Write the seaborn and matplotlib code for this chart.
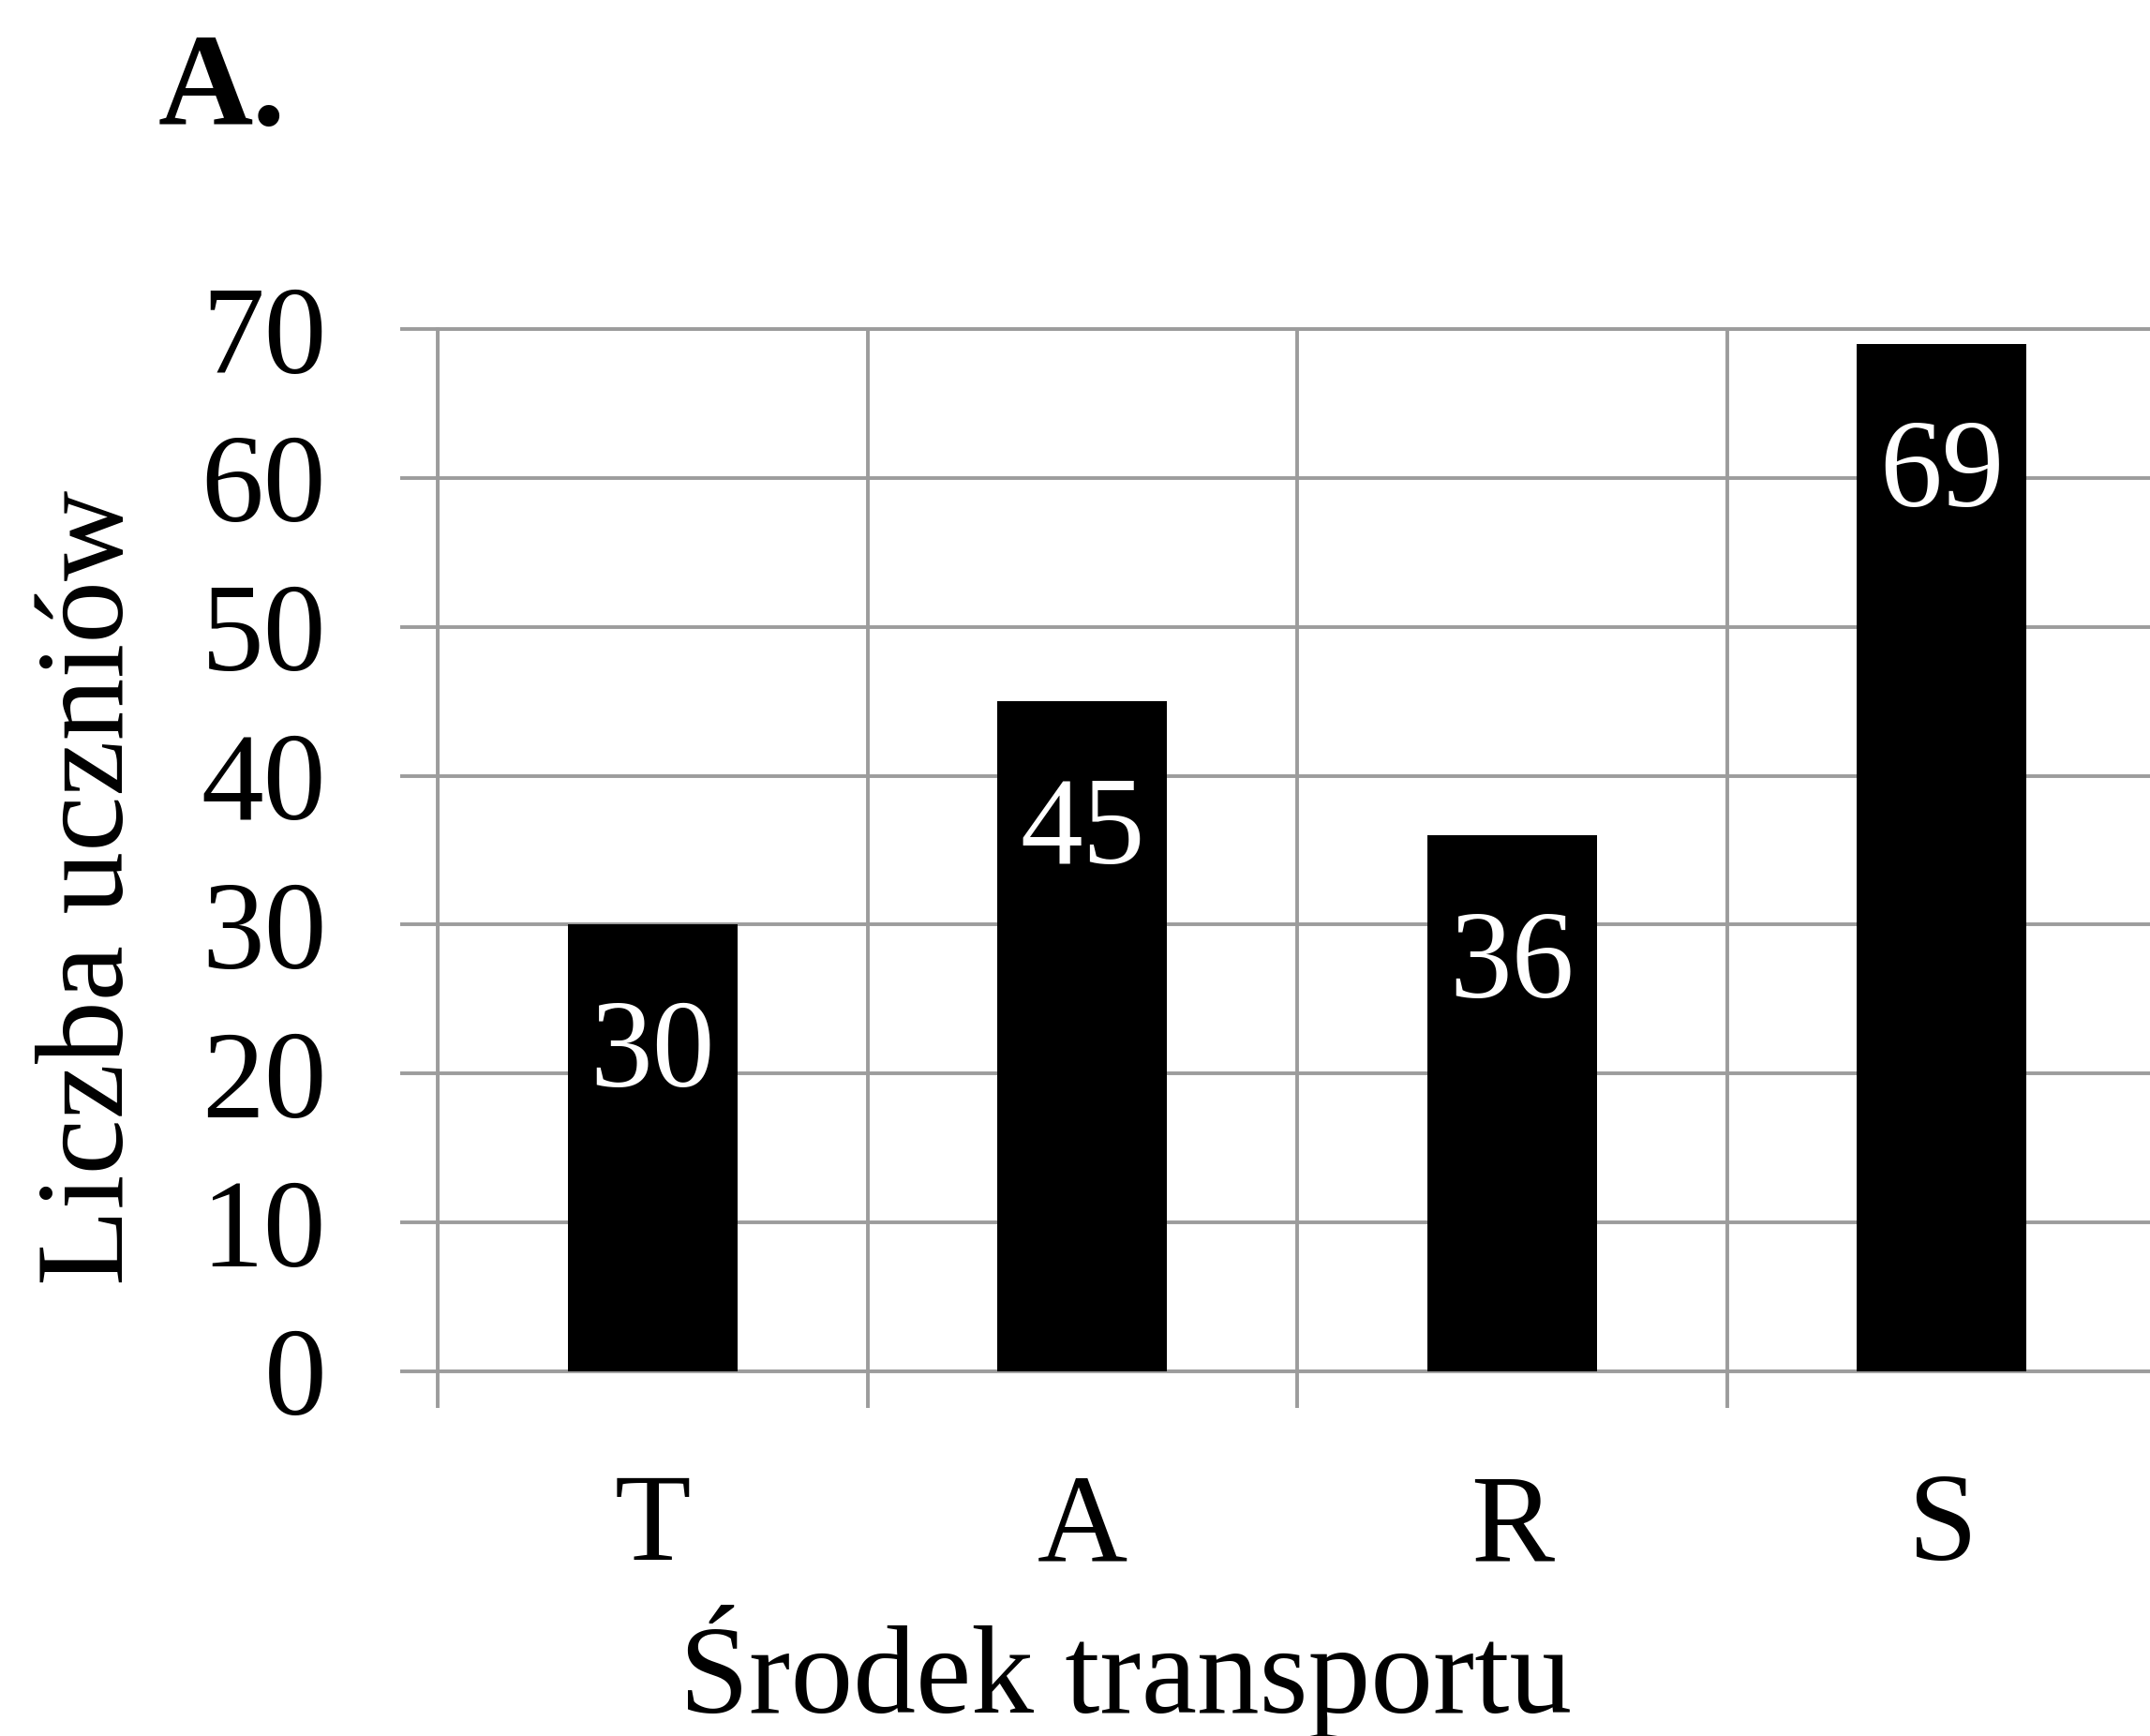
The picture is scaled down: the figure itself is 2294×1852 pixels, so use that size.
import matplotlib
matplotlib.use("Agg")
import matplotlib.pyplot as plt
import seaborn as sns
import pandas as pd
from matplotlib.ticker import FixedLocator

# Data: number of pupils by means of transport
categories = ["T", "A", "R", "S"]
values = [30, 45, 36, 69]
y_ticks = [0, 10, 20, 30, 40, 50, 60, 70]

df = pd.DataFrame({"transport": categories, "count": values})

sns.set_theme(style="white")
plt.rcParams["font.family"] = ["Liberation Serif", "DejaVu Serif"]
plt.rcParams["text.color"] = "black"
plt.rcParams["axes.labelcolor"] = "black"
plt.rcParams["xtick.labelcolor"] = "black"
plt.rcParams["ytick.labelcolor"] = "black"

W, H, DPI = 2294, 1852, 100
fig = plt.figure(figsize=(W / DPI, H / DPI), dpi=DPI)
fig.patch.set_facecolor("white")

# axes frame in pixels: left 467, top 351, bottom 1463, runs past the right edge
left_px, top_px, bot_px = 467, 351, 1463
cat_w = 458.5
ax = fig.add_axes([left_px / W, (H - bot_px) / H, (W - left_px) / W, (bot_px - top_px) / H])

sns.barplot(data=df, x="transport", y="count", color="black", saturation=1,
            width=0.395, edgecolor="black", linewidth=0, ax=ax, zorder=3)

grid_c = "#9c9c9c"
grid_lw = 2.8

ax.set_xlim(-0.5, -0.5 + (W - left_px) / cat_w)
ax.set_ylim(0, 70)
ax.set_yticks(y_ticks)
ax.set_yticklabels([str(v) for v in y_ticks])
ax.set_xticks(range(len(categories)))
ax.set_xticklabels(categories)
ax.xaxis.set_minor_locator(FixedLocator([i - 0.5 for i in range(len(categories) + 1)]))

ax.spines["right"].set_visible(False)
for side in ["left", "bottom", "top"]:
    ax.spines[side].set_color(grid_c)
    ax.spines[side].set_linewidth(grid_lw)
    ax.spines[side].set_zorder(1)

ax.grid(False)
ax.yaxis.grid(True, which="major", color=grid_c, linewidth=grid_lw, zorder=0)
ax.xaxis.grid(True, which="minor", color=grid_c, linewidth=grid_lw, zorder=0)
ax.set_axisbelow(True)

fs = 96
ax.tick_params(axis="y", which="major", direction="out", length=28.5, width=grid_lw,
               color=grid_c, pad=57, labelsize=fs, labelcolor="black", left=True)
ax.tick_params(axis="x", which="major", length=0, pad=78, labelsize=fs, labelcolor="black")
ax.tick_params(axis="x", which="minor", direction="out", length=28, width=grid_lw,
               color=grid_c, bottom=True)

ax.set_xlabel("Środek transportu", fontsize=fs, va="baseline", color="black")
ax.xaxis.set_label_coords((1201 - left_px) / (W - left_px), (bot_px - 1827) / (bot_px - top_px))
ax.set_ylabel("Liczba uczniów", fontsize=fs, va="baseline", color="black")
ax.yaxis.set_label_coords((131 - left_px) / (W - left_px), (bot_px - 947) / (bot_px - top_px))

# value labels inside the bars, white, just below the top
for i, v in enumerate(values):
    ax.annotate(str(v), xy=(i, v), xytext=(0, -124.5), textcoords="offset points",
                ha="center", va="baseline", color="white", fontsize=fs, zorder=4)

fig.text(169 / W, (H - 133) / H, "A.", fontsize=101, fontweight="bold",
         ha="left", va="baseline", color="black")

fig.savefig("out.png", dpi=DPI, facecolor="white")
